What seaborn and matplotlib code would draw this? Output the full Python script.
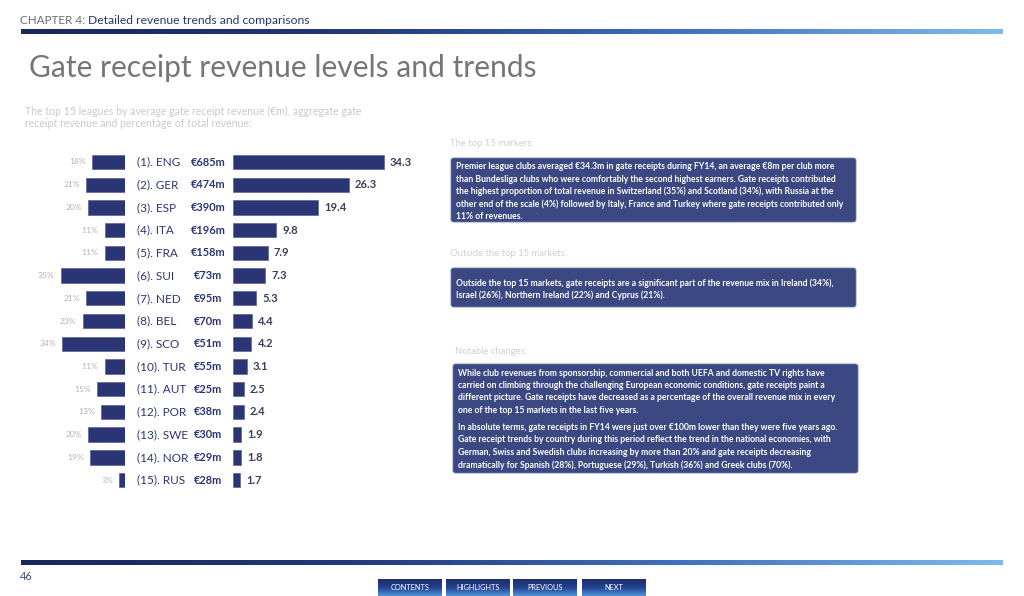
import numpy as np
import pandas as pd
import seaborn as sns
import matplotlib
matplotlib.use("Agg")
import matplotlib.pyplot as plt
import matplotlib.transforms as mtransforms
from matplotlib.colors import LinearSegmentedColormap
from matplotlib.patches import FancyBboxPatch

# === Data ===
leagues = ["ENG", "GER", "ESP", "ITA", "FRA", "SUI", "NED", "BEL",
           "SCO", "TUR", "AUT", "POR", "SWE", "NOR", "RUS"]
avg_revenue = [34.3, 26.3, 19.4, 9.8, 7.9, 7.3, 5.3, 4.4, 4.2, 3.1, 2.5, 2.4, 1.9, 1.8, 1.7]
aggregate = [685, 474, 390, 196, 158, 73, 95, 70, 51, 55, 25, 38, 30, 29, 28]
pct_total = [18, 21, 20, 11, 11, 35, 21, 23, 34, 11, 15, 13, 20, 19, 3]

labels = [f"({i + 1}). {c}" for i, c in enumerate(leagues)]
df = pd.DataFrame({"label": labels, "avg": avg_revenue, "agg": aggregate, "pct": pct_total})

box1 = ["Premier league clubs averaged €34.3m in gate receipts during FY14, an average €8m per club more",
        "than Bundesliga clubs who were comfortably the second highest earners. Gate receipts contributed",
        "the highest proportion of total revenue in Switzerland (35%) and Scotland (34%), with Russia at the",
        "other end of the scale (4%) followed by Italy, France and Turkey where gate receipts contributed only",
        "11% of revenues."]
box2 = ["Outside the top 15 markets, gate receipts are a significant part of the revenue mix in Ireland (34%),",
        "Israel (26%), Northern Ireland (22%) and Cyprus (21%)."]
box3a = ["While club revenues from sponsorship, commercial and both UEFA and domestic TV rights have",
         "carried on climbing through the challenging European economic conditions, gate receipts paint a",
         "different picture. Gate receipts have decreased as a percentage of the overall revenue mix in every",
         "one of the top 15 markets in the last five years."]
box3b = ["In absolute terms, gate receipts in FY14 were just over €100m lower than they were five years ago.",
         "Gate receipt trends by country during this period reflect the trend in the national economies, with",
         "German, Swiss and Swedish clubs increasing by more than 20% and gate receipts decreasing",
         "dramatically for Spanish (28%), Portuguese (29%), Turkish (36%) and Greek clubs (70%)."]
buttons = ["CONTENTS", "HIGHLIGHTS", "PREVIOUS", "NEXT"]

# === Style ===
sns.set_theme(style="white")
plt.rcParams["font.family"] = ["Lato", "DejaVu Sans"]

NAVY = "#2c3574"
BOX = "#3b4882"
W, H = 1024, 596

fig = plt.figure(figsize=(W / 100, H / 100), dpi=100)
fig.patch.set_facecolor("white")

# background canvas in pixel coordinates
bg = fig.add_axes([0, 0, 1, 1])
bg.set_xlim(0, W)
bg.set_ylim(H, 0)
bg.axis("off")

line_cmap = LinearSegmentedColormap.from_list("hdr", ["#18275a", "#22387a", "#3f6fbd", "#7dbbec"])
grad = np.linspace(0, 1, 256).reshape(1, -1)
for y0 in (31.5, 563):
    bg.imshow(grad, cmap=line_cmap, extent=[21, 1003, y0 + 2.2, y0 - 2.2], aspect="auto", zorder=1)

# header texts
t1 = bg.text(20, 20, "CHAPTER 4: ", color="#6d6d6d", fontsize=8.4, va="center", ha="left")
bg.annotate("Detailed revenue trends and comparisons", xy=(1, 0.5), xycoords=t1, color="#27366e",
            fontsize=8.7, va="center", ha="left")
bg.text(29, 68, "Gate receipt revenue levels and trends", color="#767676", fontsize=21.6, va="center", ha="left")
bg.text(25, 111, "The top 15 leagues by average gate receipt revenue (€m), aggregate gate",
        color="#cacaca", fontsize=7.6, va="center")
bg.text(25, 123.5, "receipt revenue and percentage of total revenue:", color="#cacaca", fontsize=7.6, va="center")

# right-hand text boxes
def text_box(x0, y0, x1, y1, heading, hy, hx, lines, line_y):
    bg.text(hx, hy, heading, color="#d0d0d0", fontsize=6.8, va="center")
    bg.add_patch(FancyBboxPatch((x0, y0), x1 - x0, y1 - y0, boxstyle="round,pad=0,rounding_size=2.5",
                                fc=BOX, ec="#6d7bb0", lw=0.6, zorder=2))
    for ly, txt in zip(line_y, lines):
        bg.text(x0 + 4.5, ly, txt, color="white", fontsize=6.2, fontweight="bold", va="center", zorder=3)

ys1 = [166.7 + 12.35 * k for k in range(5)]
text_box(451, 158, 856, 222, "The top 15 markers:", 144, 450, box1, ys1)
ys2 = [283.3, 295.5]
text_box(451, 268, 856, 307, "Outside the top 15 markets:", 254, 450, box2, ys2)
ys3 = [373.3, 385.6, 397.9, 410.2, 427.3, 439.6, 452.5, 464.8]
text_box(453, 364, 858, 473, "Notable changes:", 351, 455, box3a + box3b, ys3)

# footer
bg.text(20, 577, "46", color="#3e4c74", fontsize=7.8, va="center")
btn_cmap = LinearSegmentedColormap.from_list("btn", ["#1c2c66", "#254596", "#5a9ee0"])
btn_x = [378, 446, 513, 582]
for bx, name in zip(btn_x, buttons):
    bw = 64
    bg.imshow(np.linspace(0, 1, 64).reshape(-1, 1), cmap=btn_cmap, origin="upper",
              extent=[bx, bx + bw, 597, 579], aspect="auto", zorder=2)
    bg.text(bx + bw / 2, 588, name, color="white", fontsize=5.3, ha="center", va="center", zorder=3)
bg.set_xlim(0, W)
bg.set_ylim(H, 0)

# === Bar charts ===
row0, row_step = 162, 22.72
top = row0 - row_step / 2
height_px = row_step * 15

def px_axes(x0, x1):
    return fig.add_axes([x0 / W, 1 - (top + height_px) / H, (x1 - x0) / W, height_px / H])

# left: percentage of total revenue (bars grow leftwards)
ax_l = px_axes(33, 125)
sns.barplot(data=df, x="pct", y="label", orient="h", color=NAVY, width=0.63,
            saturation=1, ax=ax_l, edgecolor="#4b5694", linewidth=0.4)
ax_l.set_xlim(50, 0)
for i, p in enumerate(pct_total):
    ax_l.annotate(f"{p}%", (p, i), xytext=(-4.5, 0), textcoords="offset points",
                  ha="right", va="center", fontsize=6.1, color="#b4b4b4")

# right: average gate receipt revenue
ax_r = px_axes(233, 413)
sns.barplot(data=df, x="avg", y="label", orient="h", color=NAVY, width=0.63,
            saturation=1, ax=ax_r, edgecolor="#4b5694", linewidth=0.4)
ax_r.set_xlim(0, 40.9)
for i, v in enumerate(avg_revenue):
    ax_r.annotate(f"{v:.1f}", (v, i), xytext=(4.3, 0), textcoords="offset points",
                  ha="left", va="center", fontsize=8, fontweight="bold", color="#3b3f5c")

trans = mtransforms.blended_transform_factory(bg.transData, ax_r.transData)
for i, (lab, agg) in enumerate(zip(labels, aggregate)):
    ax_r.text(137, i, lab, transform=trans, ha="left", va="center", fontsize=8.5,
              color="#2c3474", clip_on=False)
    ax_r.text(208, i, f"€{agg}m", transform=trans, ha="center", va="center", fontsize=7.9,
              fontweight="bold", color="#2c3474", clip_on=False)

for ax in (ax_l, ax_r):
    ax.set_xlabel("")
    ax.set_ylabel("")
    ax.set_xticks([])
    ax.set_yticks([])
    ax.patch.set_alpha(0)
    sns.despine(ax=ax, left=True, bottom=True)

fig.savefig("out.png", dpi=100, facecolor="white")
